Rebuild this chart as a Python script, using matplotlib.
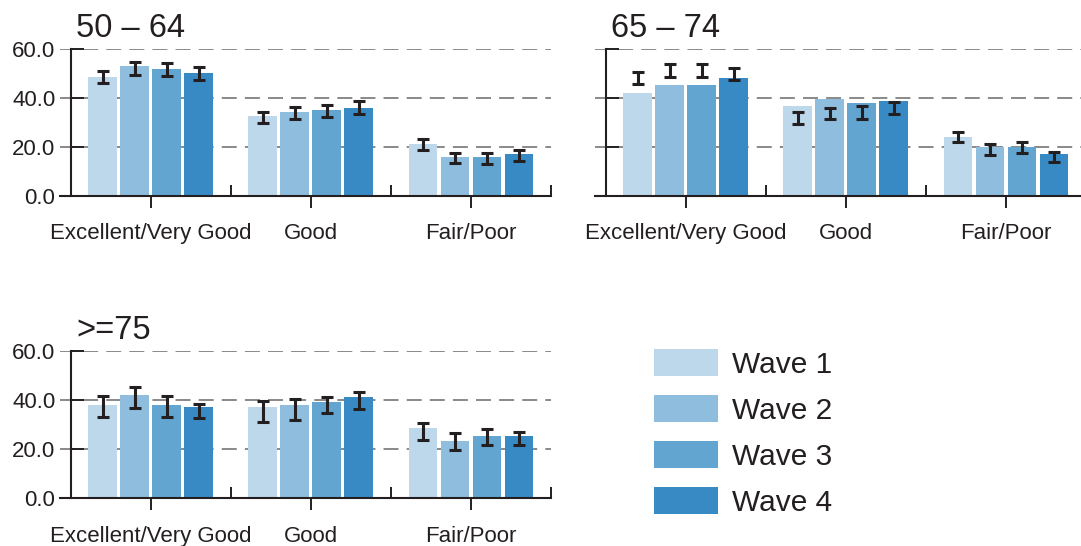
import numpy as np
import matplotlib.pyplot as plt

plt.rcParams['font.family'] = ['Liberation Sans', 'DejaVu Sans']

categories = ['Excellent/Very Good', 'Good', 'Fair/Poor']
waves = ['Wave 1', 'Wave 2', 'Wave 3', 'Wave 4']
titles = ['50 \u2013 64', '65 \u2013 74', '>=75']
colors = ['#bdd8eb', '#8fbddd', '#62a5d0', '#388ac5']
ink = '#231f20'

# bar heights per wave (Excellent/Very Good, Good, Fair/Poor)
age1_vals = [[48.3, 32.4, 21.0], [52.9, 34.0, 15.8], [51.7, 34.8, 15.8], [50.0, 36.0, 16.9]]
age1_errc = [[48.4, 32.0, 21.0], [51.8, 33.8, 15.5], [51.3, 34.6, 15.3], [49.8, 36.0, 16.5]]
age1_errh = [[2.6, 2.3, 2.1], [2.6, 2.3, 2.1], [2.6, 2.5, 2.1], [2.6, 2.5, 2.1]]

age2_vals = [[42.1, 36.8, 23.9], [45.0, 39.3, 19.8], [45.0, 37.7, 19.8], [47.8, 38.5, 17.0]]
age2_errc = [[48.1, 31.6, 24.0], [51.2, 33.6, 18.9], [51.2, 33.9, 19.8], [49.6, 35.8, 15.9]]
age2_errh = [[2.5, 2.4, 2.2], [2.6, 2.4, 2.2], [2.6, 2.6, 2.2], [2.6, 2.6, 2.2]]

age3_vals = [[38.0, 37.2, 28.6], [42.1, 38.0, 23.3], [38.0, 39.2, 25.4], [37.2, 41.3, 25.4]]
age3_errc = [[37.5, 35.4, 27.1], [40.9, 36.1, 23.0], [37.3, 38.1, 25.0], [35.6, 40.0, 24.4]]
age3_errh = [[4.3, 4.3, 3.4], [4.3, 4.3, 3.4], [4.2, 3.3, 3.4], [2.8, 3.5, 2.5]]

W, H = 1081, 546
fig = plt.figure(figsize=(W / 100, H / 100), dpi=100)

panels = [
    (titles[0], age1_vals, age1_errc, age1_errh, [60 / W, 1 - 196 / H, 491 / W, 147.5 / H], True),
    (titles[1], age2_vals, age2_errc, age2_errh, [595 / W, 1 - 196 / H, 491 / W, 147.5 / H], False),
    (titles[2], age3_vals, age3_errc, age3_errh, [60 / W, 1 - 498.3 / H, 491 / W, 147.3 / H], True),
]

x = np.arange(len(categories))
offsets = [-0.3, -0.1, 0.1, 0.3]
handles = []
for title, vals, errc, errh, rect, show_y in panels:
    ax = fig.add_axes(rect)
    for i in range(len(waves)):
        b = ax.bar(x + offsets[i], vals[i], width=0.18, color=colors[i], zorder=2)
        ax.errorbar(x + offsets[i], errc[i], yerr=errh[i], fmt='none', ecolor=ink,
                    elinewidth=2.2, capsize=4, capthick=2.2, zorder=3)
        if title == titles[0]:
            handles.append(b)
    ax.set_xlim(-0.5 - 10.7 / 160, 2.5)
    ax.set_ylim(0, 60)
    ax.set_yticks([0, 20, 40, 60])
    if show_y:
        ax.set_yticklabels(['0.0', '20.0', '40.0', '60.0'])
    else:
        ax.set_yticklabels([])
    ax.set_xticks(x)
    ax.set_xticklabels(categories)
    ax.set_xticks([0.5, 1.5, 2.5], minor=True)
    ax.yaxis.grid(True, color='#808080', linewidth=1.3, linestyle=(0, (8.3, 4.5)), zorder=1)
    ax.set_axisbelow(True)
    for s in ['top', 'right']:
        ax.spines[s].set_visible(False)
    ax.spines['left'].set_position(('data', -0.5))
    for s in ['left', 'bottom']:
        ax.spines[s].set_color(ink)
        ax.spines[s].set_linewidth(1.5)
    ax.tick_params(axis='y', direction='in', length=9, width=1.4, color=ink,
                   labelsize=16, labelcolor=ink, pad=11)
    ax.tick_params(axis='x', which='major', direction='out', length=8.6, width=1.4,
                   color=ink, labelsize=16, labelcolor=ink, pad=11)
    ax.tick_params(axis='x', which='minor', direction='in', length=8, width=1.4, color=ink)
    ax.annotate(title, xy=(-0.5, 60), xycoords='data', xytext=(4, 8.5),
                textcoords='offset points', fontsize=23.5, color=ink,
                ha='left', va='baseline', annotation_clip=False)

fig.legend(handles, waves, loc='upper left', bbox_to_anchor=(654 / W, 1 - 349 / H),
           frameon=False, fontsize=21.5, handlelength=2.14, handleheight=1.0,
           handletextpad=0.47, labelspacing=0.55, borderpad=0, borderaxespad=0,
           labelcolor=ink)

fig.savefig('out.png', dpi=100, facecolor='white')
